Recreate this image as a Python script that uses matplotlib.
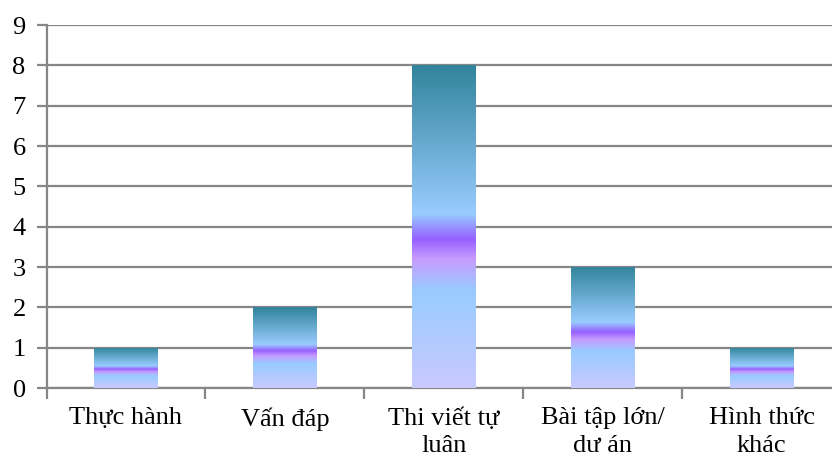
import matplotlib.pyplot as plt
import numpy as np
from matplotlib.colors import LinearSegmentedColormap

categories = ['Thực hành', 'Vấn đáp', 'Thi viết tự\nluân', 'Bài tập lớn/\ndư án', 'Hình thức\nkhác']
values = [1, 2, 8, 3, 1]
yticks = list(range(0, 10))

plt.rcParams['font.family'] = ['Liberation Serif', 'DejaVu Serif']

# gradient along each bar, bottom -> top
grad = LinearSegmentedColormap.from_list('bar', [
    (0.0, '#c9c9ff'),
    (0.30, '#99ccff'),
    (0.40, '#c79bff'),
    (0.46, '#9560ff'),
    (0.54, '#99ccff'),
    (1.0, '#31849b'),
])

fig = plt.figure(figsize=(8.32, 4.61), dpi=100)
ax = fig.add_axes([46.5 / 832, 1 - 388 / 461, (841 - 46.5) / 832, (388 - 25) / 461])

x = np.arange(len(categories))
bw = 0.40
bars = ax.bar(x, values, width=bw, color='none', edgecolor='none', zorder=3)
g = np.linspace(0, 1, 256).reshape(-1, 1)
for b in bars:
    x0, w, h = b.get_x(), b.get_width(), b.get_height()
    im = ax.imshow(g, cmap=grad, origin='lower', aspect='auto',
                   extent=[x0, x0 + w, 0, h], zorder=3, interpolation='bilinear')
    im.set_clip_path(b)

ax.set_xlim(-0.5, len(categories) - 0.5)
ax.set_ylim(0, 9)
ax.set_yticks(yticks)
ax.yaxis.grid(True, color='#868686', linewidth=1.6, zorder=0)
ax.set_axisbelow(True)

for s in ['top', 'right']:
    ax.spines[s].set_visible(False)
for s in ['left', 'bottom']:
    ax.spines[s].set_color('#868686')
    ax.spines[s].set_linewidth(1.6)

ax.set_xticks(x)
ax.set_xticklabels(categories, fontsize=19, linespacing=1.3, va='top')
ax.set_xticks(np.arange(-0.5, len(categories)), minor=True)
ax.tick_params(axis='x', which='major', length=0, pad=14)
ax.tick_params(axis='x', which='minor', length=8, color='#868686', width=1.6)
ax.tick_params(axis='y', length=7, color='#868686', width=1.6, labelsize=19, pad=8)

fig.savefig('out.png', dpi=100)
